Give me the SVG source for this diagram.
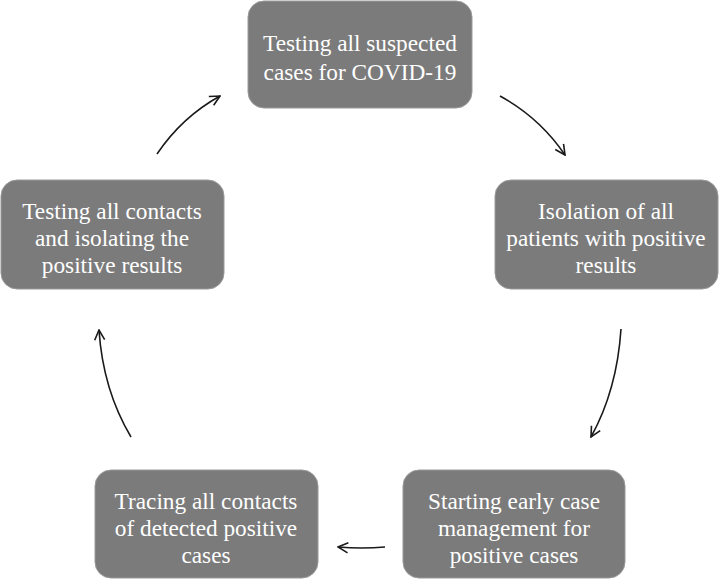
<svg xmlns="http://www.w3.org/2000/svg" width="720" height="585" viewBox="0 0 720 585">
<style>
.box{fill:#7b7b7b;stroke:#9a9a9a;stroke-width:1}
.t{font-family:"Liberation Serif","Times New Roman",serif;font-size:23.3px;fill:#ffffff;text-anchor:middle}
.c{fill:none;stroke:#1a1a1a;stroke-width:1.6}
</style>
<defs>
<marker id="ah" viewBox="0 0 12 12" refX="11" refY="6" markerWidth="12" markerHeight="12" markerUnits="userSpaceOnUse" orient="auto">
<path d="M1,1 L11,6 L1,11" fill="none" stroke="#1a1a1a" stroke-width="1.6"/>
</marker>
</defs>
<rect width="720" height="585" fill="#ffffff"/>
<g id="n1"><rect class="box" x="248" y="1" width="224" height="107" rx="16"/>
<text class="t" x="360" y="51">Testing all suspected</text><text class="t" x="360" y="80">cases for COVID-19</text></g>
<g id="n2"><rect class="box" x="495" y="180" width="223" height="109" rx="16"/>
<text class="t" x="606" y="219">Isolation of all</text><text class="t" x="606" y="246">patients with positive</text><text class="t" x="606" y="273">results</text></g>
<g id="n3"><rect class="box" x="403" y="470" width="222" height="108" rx="16"/>
<text class="t" x="514" y="509">Starting early case</text><text class="t" x="514" y="536">management for</text><text class="t" x="514" y="563">positive cases</text></g>
<g id="n4"><rect class="box" x="95" y="470" width="223" height="108" rx="16"/>
<text class="t" x="206" y="509">Tracing all contacts</text><text class="t" x="206" y="536">of detected positive</text><text class="t" x="206" y="563">cases</text></g>
<g id="n5"><rect class="box" x="1" y="180" width="223" height="109" rx="16"/>
<text class="t" x="112" y="219">Testing all contacts</text><text class="t" x="112" y="246">and isolating the</text><text class="t" x="112" y="273">positive results</text></g>
<g id="connectors">
<path class="c" d="M500,96 Q540,118 565,155" marker-end="url(#ah)"/>
<path class="c" d="M621,329 Q617,390 591,437" marker-end="url(#ah)"/>
<path class="c" d="M385,547 Q362,549 338,547" marker-end="url(#ah)"/>
<path class="c" d="M131,437 Q103,390 99,330" marker-end="url(#ah)"/>
<path class="c" d="M157,154 Q182,117 220,96" marker-end="url(#ah)"/>
</g>
</svg>
